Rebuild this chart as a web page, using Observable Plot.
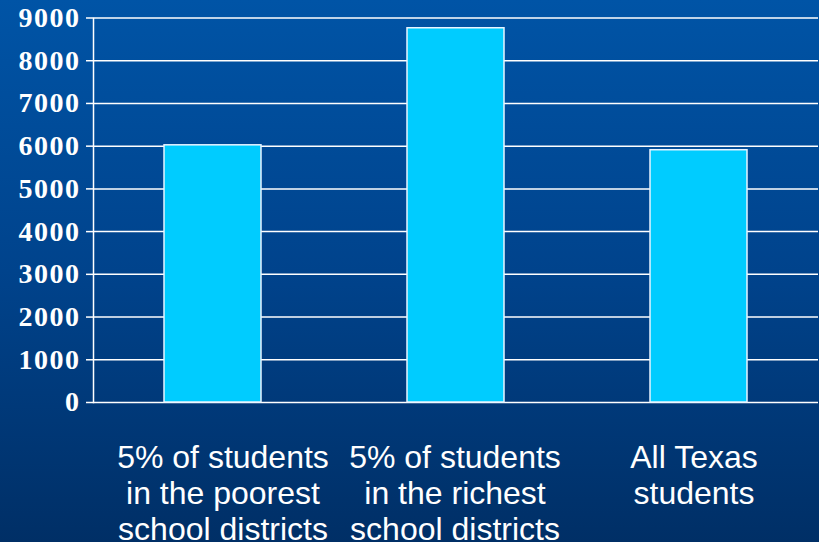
<!DOCTYPE html>
<html>
<head>
<meta charset="utf-8">
<script src="https://cdn.jsdelivr.net/npm/d3@7"></script>
<script src="https://cdn.jsdelivr.net/npm/@observablehq/plot@0.6"></script>
<style>
  html, body { margin: 0; padding: 0; }
  body {
    width: 819px; height: 542px; overflow: hidden;
    background: linear-gradient(to bottom, #0054a6 0%, #00438c 50%, #002f66 100%);
  }
  svg { display: block; background: transparent !important; }
</style>
</head>
<body>
<div id="chart"></div>
<script>
const categories = ["poorest", "richest", "all"];
const categoryLabels = [
  "5% of students\nin the poorest\nschool districts",
  "5% of students\nin the richest\nschool districts",
  "All Texas\nstudents"
];
const values = [6020, 8760, 5905];
const yTicks = [0, 1000, 2000, 3000, 4000, 5000, 6000, 7000, 8000, 9000];

const data = categories.map((c, i) => ({category: c, value: values[i], label: categoryLabels[i]}));

const labelStyle = {
  x: "category", text: "label", frameAnchor: "bottom", lineAnchor: "top",
  dy: 40, fill: "white", fontSize: 32, lineHeight: 1.125,
  fontFamily: "'Liberation Sans', Arial, sans-serif", textAnchor: "middle"
};

const chart = Plot.plot({
  width: 819,
  height: 542,
  marginLeft: 93,
  marginRight: 1,
  marginTop: 18,
  marginBottom: 140,
  style: {background: "transparent", color: "white", overflow: "visible"},
  x: {domain: categories, range: [91, 820], paddingInner: 0.6, paddingOuter: 0.3, axis: null},
  y: {domain: [0, 9000], range: [402, 17.5]},
  marks: [
    Plot.gridY(yTicks, {stroke: "white", strokeOpacity: 1, strokeWidth: 1.5}),
    Plot.barY(data, {x: "category", y: "value", fill: "#00ccff", stroke: "#e8f4ff", strokeWidth: 1.5}),
    Plot.frame({anchor: "left", stroke: "white", strokeWidth: 1.5}),
    Plot.axisY({
      ticks: yTicks, tickSize: 7, tickPadding: 6, tickFormat: d => String(d),
      stroke: "white", strokeWidth: 1.5, fill: "white",
      fontSize: 28, fontWeight: "bold", fontFamily: "'Liberation Serif', 'Times New Roman', serif",
      letterSpacing: "1.5px", label: null
    }),
    Plot.text(data.filter(d => d.category === "poorest"), {...labelStyle, dx: 10}),
    Plot.text(data.filter(d => d.category === "richest"), {...labelStyle, dx: -1}),
    Plot.text(data.filter(d => d.category === "all"), {...labelStyle, dx: -5})
  ]
});
document.getElementById("chart").append(chart);
d3.select(chart).selectAll("[aria-label='y-axis tick label'] text").style("letter-spacing", "1.5px");
</script>
</body>
</html>
